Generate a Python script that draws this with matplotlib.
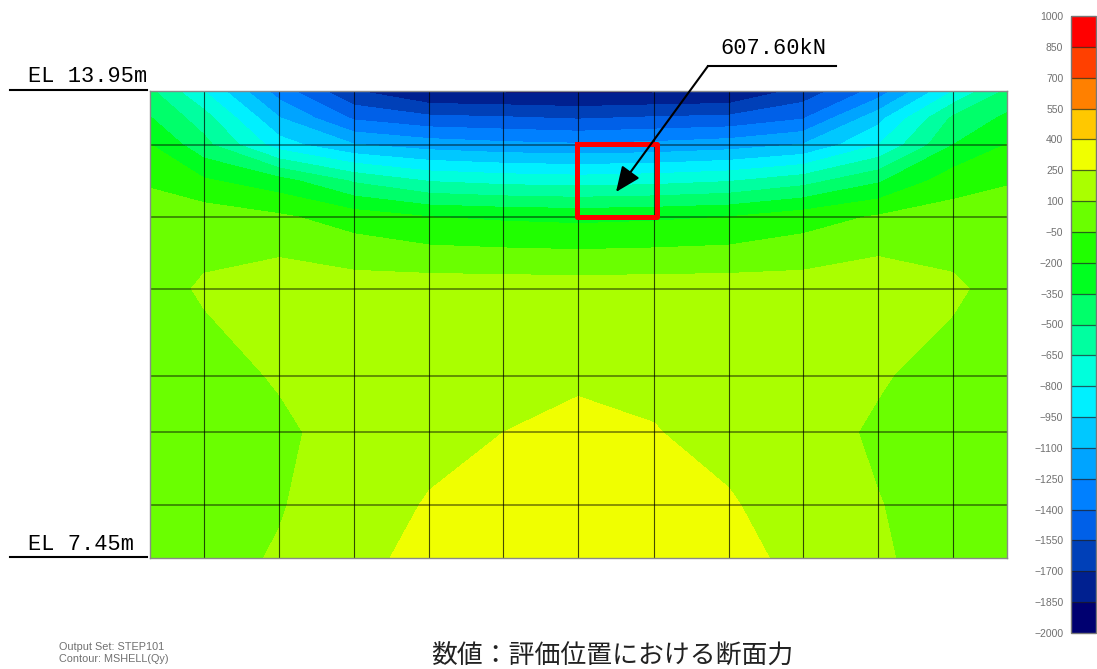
import matplotlib
matplotlib.use("Agg")

import matplotlib.pyplot as plt
import numpy as np
from matplotlib.colors import BoundaryNorm, ListedColormap

# mesh lines of the wall (x in m from the left end, y as elevation in m)
mesh_x = [0.00, 0.75, 1.80, 2.84, 3.89, 4.92, 5.96, 7.02, 8.06, 9.09, 10.14, 11.18, 11.93]
mesh_el = [13.95, 13.20, 12.20, 11.20, 9.99, 9.20, 8.19, 7.45]
# field samples also sit half way down the two top elements
field_el = [13.95, 13.57, 13.20, 12.70, 12.20, 11.20, 9.99, 9.20, 8.19, 7.45]

# Qy (kN) at the samples, top row first
qy_0 = [-470, -800, -1325, -1690, -1860, -1875, -1885, -1875, -1860, -1650, -1340, -800, -470]
qy_1 = [-340, -580, -1090, -1420, -1510, -1530, -1560, -1530, -1510, -1410, -1000, -470, -320]
qy_2 = [-195, -450, -880, -1090, -1170, -1210, -1230, -1210, -1170, -1090, -800, -350, -195]
qy_3 = [-75, -180, -290, -520, -660, -700, -720, -700, -660, -560, -370, -115, -65]
qy_4 = [45, 33, -28, -120, -200, -225, -240, -225, -200, -120, -35, 10, 35]
qy_5 = [40, 118, 197, 175, 180, 178, 175, 178, 180, 175, 208, 126, 40]
qy_6 = [30, 40, 115, 190, 215, 225, 230, 225, 215, 190, 115, 40, 30]
qy_7 = [30, 35, 70, 165, 210, 250, 284, 255, 210, 160, 78, 35, 30]
qy_8 = [25, 30, 90, 185, 260, 290, 320, 295, 262, 185, 105, 35, 25]
qy_9 = [25, 50, 113, 227, 275, 310, 340, 315, 275, 229, 115, 50, 25]

levels = [-2000, -1850, -1700, -1550, -1400, -1250, -1100, -950, -800, -650, -500,
          -350, -200, -50, 100, 250, 400, 550, 700, 850, 1000]
band_colors = ["#000070", "#002090", "#0040b8", "#0060e8", "#0080ff", "#00a4ff", "#00c8ff",
               "#00f0ff", "#00ffdc", "#00ffa0", "#00ff6a", "#00ff20", "#20ff00", "#6aff00",
               "#aaff00", "#f0ff00", "#ffc800", "#ff8000", "#ff4000", "#ff0000"]
tick_labels = [str(v).replace("-", "\u2212") for v in levels]

W, H = 1097, 669
FIELD = (150, 91, 1007, 558)
BAR = (1071, 16, 1096, 633)
MONO = "Liberation Mono"


def px_axes(fig, box):
    x0, y0, x1, y1 = box
    return fig.add_axes([x0 / W, 1 - y1 / H, (x1 - x0) / W, (y1 - y0) / H])


fig = plt.figure(figsize=(W / 100, H / 100), dpi=100)

ax = px_axes(fig, FIELD)
cmap = ListedColormap(band_colors)
norm = BoundaryNorm(levels, cmap.N)
qy = np.array([qy_0, qy_1, qy_2, qy_3, qy_4, qy_5, qy_6, qy_7, qy_8, qy_9])
cf = ax.contourf(mesh_x, field_el, qy, levels=levels, cmap=cmap, norm=norm, antialiased=False)
ax.set_xlim(mesh_x[0], mesh_x[-1])
ax.set_ylim(mesh_el[-1], mesh_el[0])
ax.set_xticks([])
ax.set_yticks([])
for x in mesh_x[1:-1]:
    ax.axvline(x, color="black", lw=0.8, alpha=0.7)
for y in mesh_el[1:-1]:
    ax.axhline(y, color="black", lw=1.2, alpha=0.5)
for s in ax.spines.values():
    s.set_color("#8a8a8a")
    s.set_linewidth(1.0)

# colour bar
cax = px_axes(fig, BAR)
cb = fig.colorbar(cf, cax=cax, ticks=levels, drawedges=True, spacing="uniform")
cb.dividers.set_color("#222222")
cb.dividers.set_alpha(0.7)
cb.dividers.set_linewidth(0.9)
cb.outline.set_edgecolor("#777777")
cb.outline.set_linewidth(1.0)
cax.yaxis.set_ticks_position("left")
cax.set_yticklabels(tick_labels, fontsize=7.5, color="#707070", family="Liberation Sans")
cax.tick_params(length=0, pad=5.5)

# annotation layer in picture pixels
ov = fig.add_axes([0, 0, 1, 1], facecolor="none")
ov.set_xlim(0, W)
ov.set_ylim(H, 0)
ov.axis("off")

ov.plot([10, 147], [90, 90], color="black", lw=1.5)
ov.plot([10, 147], [557, 557], color="black", lw=1.5)
ov.text(28, 76, "EL 13.95m", family=MONO, fontsize=15.8, va="center", ha="left")
ov.text(28, 544, "EL 7.45m", family=MONO, fontsize=15.8, va="center", ha="left")

# evaluated element
ov.plot([576.5, 656.5, 656.5, 576.5, 576.5], [144, 144, 217, 217, 144],
        color="#ff0000", lw=3.6, solid_joinstyle="round")

ov.plot([708, 836], [66, 66], color="black", lw=1.5)
ov.annotate("", xy=(616, 192), xytext=(708, 66),
            arrowprops=dict(arrowstyle="-|>,head_length=1.4,head_width=0.6", color="black",
                            lw=1.5, shrinkA=0, shrinkB=0, mutation_scale=11))
ov.text(720, 48, "607.60kN", family=MONO, fontsize=15.8, va="center", ha="left")

ov.text(59, 647, "Output Set: STEP101", family="Liberation Sans", fontsize=7.8,
        color="#707070", va="center", ha="left")
ov.text(59, 659, "Contour: MSHELL(Qy)", family="Liberation Sans", fontsize=7.8,
        color="#707070", va="center", ha="left")
ov.text(612, 656, "数値：評価位置における断面力", family=["Noto Sans CJK JP", "DejaVu Sans"],
        fontsize=18.6, color="#222222", va="center", ha="center")

fig.savefig("out.png", dpi=100)
